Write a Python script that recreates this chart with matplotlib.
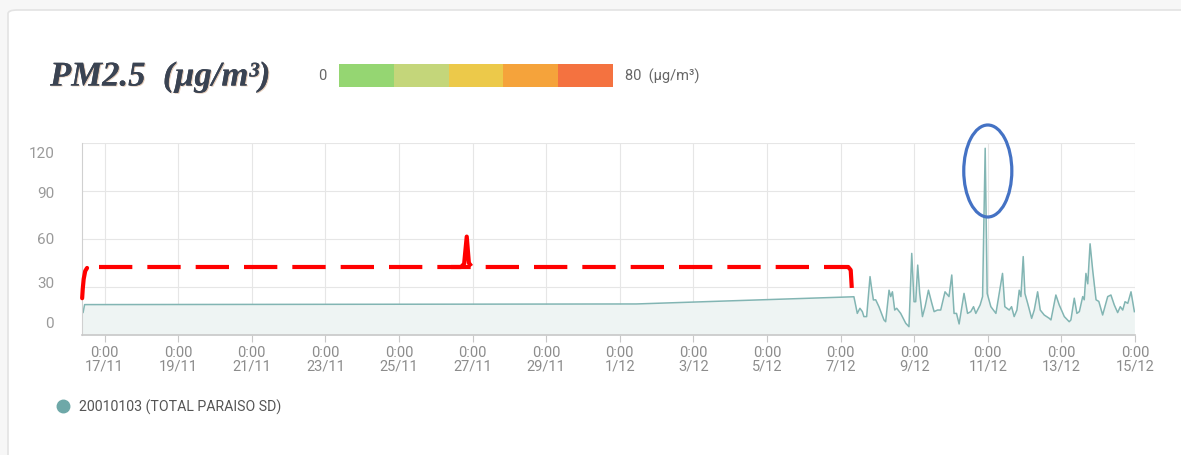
import datetime as dt
import matplotlib
matplotlib.use('Agg')
import matplotlib.pyplot as plt
import matplotlib.dates as mdates
import matplotlib.transforms as mtransforms
import matplotlib.patheffects as pe
from matplotlib.patches import Ellipse, FancyBboxPatch, Rectangle
from matplotlib.lines import Line2D

# hours after 17/11 0:00, PM2.5 in ug/m3
base = dt.datetime(2020, 11, 17)
hours = [-14.7, -14.0, -13.0, 346.8,
         488.7, 490.9, 492.6, 494.2, 495.2, 497.0, 499.2, 500.1, 501.4, 502.9,
         505.0, 508.3, 509.4, 511.6, 512.7, 513.8, 515.3, 516.6, 519.2, 522.5,
         524.6, 526.4, 527.9, 529.0, 530.3, 531.6, 533.4, 535.1, 537.3, 539.5,
         541.0, 543.2, 545.3, 548.1, 550.7, 552.5, 554.0, 555.6, 557.3, 560.5,
         562.8, 564.9, 566.7, 568.2, 571.0, 572.6, 574.3, 575.6, 578.0, 581.3,
         585.6, 587.1, 590.0, 591.5, 593.2, 595.0, 596.5, 597.6, 599.1, 600.2,
         602.0, 604.6, 606.3, 608.5, 610.2, 612.8, 616.1, 617.2, 620.4, 622.6,
         625.9, 629.1, 630.2, 632.4, 634.1, 635.7, 637.9, 638.9, 640.0, 641.2,
         642.7, 644.4, 646.6, 648.4, 650.9, 654.2, 656.3, 658.5, 660.7, 662.4,
         664.0, 665.5, 667.3, 669.4, 671.6]
pm25 = [17, 14, 19, 19.4,
        23.9, 13.5, 16.7, 14.6, 11.5, 11.5, 36.5, 30, 21.9, 22,
        17.7, 9.4, 8.3, 28, 24, 27, 15.6, 16.7, 13.5, 7.3,
        5.2, 51, 20.8, 20.8, 43.7, 26, 11.5, 17.7, 28, 19.8,
        14.6, 15.6, 15.6, 27, 24, 37.5, 13.5, 13.5, 6.9, 26,
        13.5, 14.6, 17.7, 13.5, 18.75, 24, 116.7, 26, 17.7, 13.5,
        38.5, 17.7, 15.6, 17.7, 11.5, 15.6, 28, 24, 49, 26,
        19.8, 10.4, 15.6, 27, 15.6, 12.5, 10.4, 9.4, 25, 18.75,
        11.5, 8.3, 9.4, 23, 13.5, 14.6, 24, 22, 38.5, 32,
        57, 40.6, 22, 21, 12.5, 24, 25, 18.75, 14, 17.7,
        15.6, 20.8, 19.8, 27, 14.6]
times = [base + dt.timedelta(hours=h) for h in hours]

yticks = [0, 30, 60, 90, 120]
xticks = [base + dt.timedelta(days=2 * i) for i in range(15)]
xlabels = ['0:00\n{}/{}'.format(d.day, d.month) for d in xticks]

scale_colors = ['#95d672', '#c4d67a', '#ecc94a', '#f5a33b', '#f47240']
series_name = '20010103 (TOTAL PARAISO SD)'

# hand-drawn marks (hours, value)
brace_left = ([-11.4, -12.6, -13.6, -14.2, -14.6], [41.9, 40.0, 35.0, 29.0, 23.0])
brace_dash = ([-3.3, 481.5], [42.5, 42.5])
brace_mid = ([226.0, 232.5, 234.5, 236.2, 237.6, 239.2], [42.5, 42.5, 44.5, 61.5, 45.0, 43.0])
brace_right = ([481.5, 485.0, 486.6, 487.3], [42.5, 42.5, 40.6, 29.4])
circle_center = (576.0, 102.5)

W, H = 1181, 455
fig = plt.figure(figsize=(W / 100, H / 100), dpi=100)
fig.patch.set_facecolor('white')
fig.patches.append(Rectangle((0, 0), 1, 1, transform=fig.transFigure,
                             facecolor='#f7f7f7', edgecolor='none', zorder=-3))
fig.patches.append(FancyBboxPatch((8 / W, -0.2), 1.2, 1 - 10 / H + 0.2,
                                  boxstyle='round,pad=0,rounding_size=0.008',
                                  transform=fig.transFigure, facecolor='white',
                                  edgecolor='#e3e3e3', lw=1.2, zorder=-2))

ax = fig.add_axes([82 / W, 120 / H, (1135 - 82) / W, 192 / H])
ax.set_facecolor('none')
ax.fill_between(times, pm25, 0, color='#eef4f3', lw=0, zorder=1)
ax.plot(times, pm25, color='#82b5b3', lw=1.1, zorder=2)

ax.set_ylim(0, 120)
ax.set_xlim(times[0], base + dt.timedelta(days=28))
ax.set_yticks(yticks)
ax.set_yticklabels([str(v) for v in yticks])
ax.set_xticks(xticks)
ax.set_xticklabels(xlabels, linespacing=0.95)
ax.grid(True, color='#e6e6e6', lw=0.8, zorder=0)
ax.set_axisbelow(True)
for s in ['top', 'right']:
    ax.spines[s].set_visible(False)
ax.spines['left'].set_color('#d0d0d0')
ax.spines['bottom'].set_color('#c8c8c8')
ax.spines['bottom'].set_linewidth(1.2)
ax.tick_params(axis='y', length=0, pad=20, labelsize=11, labelcolor='#9a9a9a')
ax.tick_params(axis='x', length=5, color='#c8c8c8', pad=3, labelsize=10.5, labelcolor='#8c8c8c')
for lab in ax.get_yticklabels():
    lab.set_fontfamily('Roboto')
for lab in ax.get_xticklabels():
    lab.set_fontfamily('Roboto')

# y labels sit a little off the gridlines in the reference
shifts = [13, 5, 1, -1, -10]
for lab, s in zip(ax.get_yticklabels(), shifts):
    lab.set_transform(lab.get_transform() + mtransforms.ScaledTranslation(0, s / 100, fig.dpi_scale_trans))

def to_t(hs):
    return [base + dt.timedelta(hours=h) for h in hs]

red = dict(color='#ff0000', lw=3, solid_capstyle='butt', clip_on=False, zorder=5)
ax.plot(to_t(brace_left[0]), brace_left[1], solid_capstyle='round', **{k: v for k, v in red.items() if k != 'solid_capstyle'})
ax.plot(to_t(brace_dash[0]), brace_dash[1], dashes=(8, 3.6), **red)
ax.plot(to_t(brace_mid[0]), brace_mid[1], **red)
ax.plot(to_t(brace_right[0]), brace_right[1], **red)

cx = mdates.date2num(base + dt.timedelta(hours=circle_center[0]))
ax.add_patch(Ellipse((cx, circle_center[1]), 48 / 36.75, 57.5, fill=False,
                     edgecolor='#4472c4', lw=2.3, clip_on=False, zorder=6))

# title and colour scale
fig.text(50 / W, 1 - 77 / H, 'PM2.5  (µg/m³)', fontsize=25, fontweight='bold',
         fontstyle='italic', family='Liberation Serif', color='#3a4352', va='center',
         path_effects=[pe.withSimplePatchShadow(offset=(0.8, -0.6), shadow_rgbFace='#c08a60', alpha=0.45), pe.Normal()])
sax = fig.add_axes([339 / W, 1 - 87 / H, 274 / W, 23 / H])
sax.bar(range(len(scale_colors)), [1] * len(scale_colors), width=1.0, color=scale_colors)
sax.set_xlim(-0.5, len(scale_colors) - 0.5)
sax.set_ylim(0, 1)
sax.axis('off')
fig.text(322 / W, 1 - 76 / H, '0', fontsize=10.5, family='Roboto', color='#666666', ha='center', va='center')
fig.text(625 / W, 1 - 76 / H, '80  (µg/m³)', fontsize=10.5, family='Roboto', color='#666666', ha='left', va='center')

handle = Line2D([], [], marker='o', ls='', color='#6ea8a8', markersize=9)
fig.legend(handles=[handle], labels=[series_name], loc='center left',
           bbox_to_anchor=(36 / W, 1 - 407 / H), frameon=False, handletextpad=0.15,
           prop={'family': 'Roboto', 'size': 10.2}, labelcolor='#555555')

fig.savefig('out.png', dpi=100)
